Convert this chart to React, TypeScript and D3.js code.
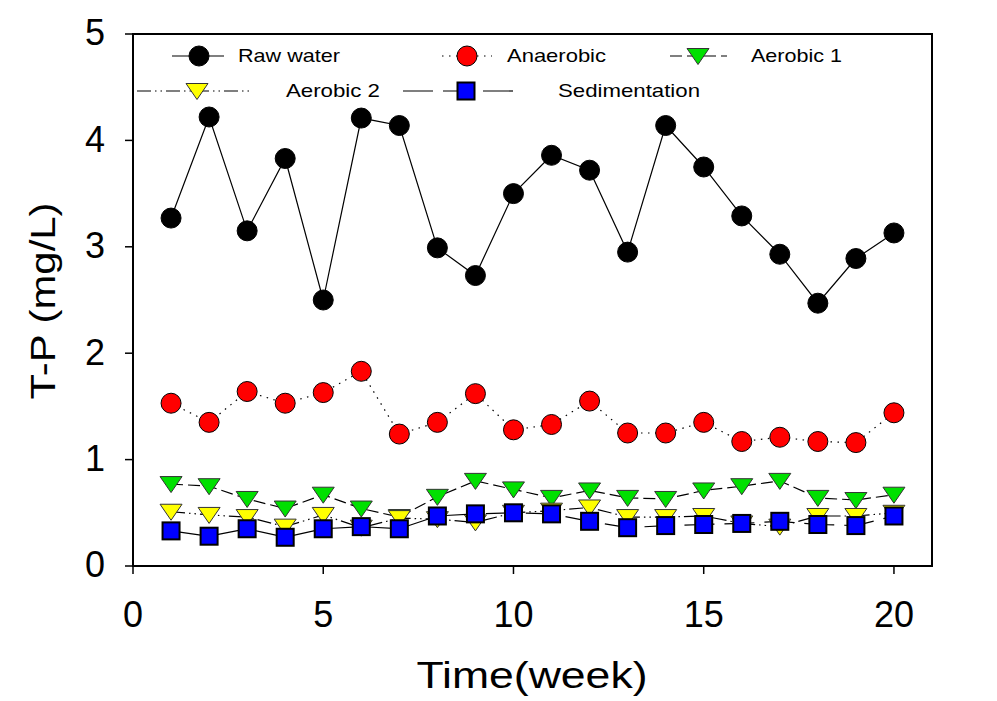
import React from "react";
import * as d3 from "d3";

const weeks = [1,2,3,4,5,6,7,8,9,10,11,12,13,14,15,16,17,18,19,20];
const rawWater = [3.27,4.22,3.15,3.83,2.50,4.21,4.14,2.99,2.73,3.50,3.86,3.72,2.95,4.14,3.75,3.29,2.93,2.47,2.89,3.13];
const anaerobic = [1.53,1.35,1.64,1.53,1.63,1.83,1.24,1.35,1.62,1.28,1.33,1.55,1.25,1.25,1.35,1.17,1.21,1.17,1.16,1.44];
const aerobic1 = [0.77,0.75,0.63,0.54,0.67,0.54,0.46,0.65,0.80,0.72,0.64,0.71,0.64,0.63,0.71,0.75,0.80,0.64,0.62,0.67];
const aerobic2 = [0.51,0.48,0.46,0.37,0.48,0.36,0.45,0.44,0.41,0.50,0.52,0.55,0.46,0.46,0.47,0.40,0.37,0.47,0.47,0.50];
const sedimentation = [0.33,0.28,0.35,0.27,0.35,0.37,0.35,0.47,0.49,0.50,0.49,0.42,0.36,0.38,0.39,0.40,0.42,0.39,0.38,0.47];
const xTicks = [0,5,10,15,20];
const yTicks = [0,1,2,3,4,5];

type Marker = "circle" | "tri" | "square";
interface Series { name: string; values: number[]; fill: string; stroke: string; marker: Marker; dash: string; }

const series: Series[] = [
  { name: "Raw water", values: rawWater, fill: "#000000", stroke: "#000", marker: "circle", dash: "" },
  { name: "Anaerobic", values: anaerobic, fill: "#ff0000", stroke: "#000", marker: "circle", dash: "1.5 5.5" },
  { name: "Aerobic 1", values: aerobic1, fill: "#00e000", stroke: "#333", marker: "tri", dash: "12 5" },
  { name: "Aerobic 2", values: aerobic2, fill: "#ffff00", stroke: "#333", marker: "tri", dash: "14 4 1.5 4 1.5 4" },
  { name: "Sedimentation", values: sedimentation, fill: "#0000ff", stroke: "#000", marker: "square", dash: "30 10" },
];

const FONT = "'Liberation Sans', Arial, sans-serif";

function MarkerShape({ m, x, y, fill, stroke }: { m: Marker; x: number; y: number; fill: string; stroke: string }) {
  if (m === "circle") return <circle cx={x} cy={y} r={10} fill={fill} stroke={stroke} strokeWidth={1} />;
  if (m === "tri") {
    const w = 11, h = 15;
    const p = `${x - w},${y - h / 2} ${x + w},${y - h / 2} ${x},${y + h / 2 + 1}`;
    return <polygon points={p} fill={fill} stroke={stroke} strokeWidth={1} />;
  }
  const s = 17;
  return <rect x={x - s / 2} y={y - s / 2} width={s} height={s} fill={fill} stroke={stroke} strokeWidth={2} />;
}

export default function App() {
  const left = 133, right = 932, top = 34, bottom = 566;
  const x = d3.scaleLinear().domain([0, 21]).range([left, right]);
  const y = d3.scaleLinear().domain([0, 5]).range([bottom, top]);
  const line = d3.line<number>().x((_, i) => x(weeks[i])).y((v) => y(v));

  const legend = [
    { s: series[0], x1: 172, x2: 224, mx: 199, ty: 56, tx: 238, tw: 102 },
    { s: series[1], x1: 442, x2: 492, mx: 467, ty: 56, tx: 507, tw: 99 },
    { s: series[2], x1: 670, x2: 727, mx: 698, ty: 56, tx: 751, tw: 91 },
    { s: series[3], x1: 137, x2: 252, mx: 197, ty: 91, tx: 286, tw: 94 },
    { s: series[4], x1: 403, x2: 517, mx: 466, ty: 91, tx: 558, tw: 142 },
  ];

  return (
    <svg width={997} height={701} style={{ position: "absolute", left: 0, top: 0, background: "#fff" }} fontFamily={FONT}>
      <rect x={0} y={0} width={997} height={701} fill="#fff" />
      {series.map((s) => (
        <g key={s.name}>
          <path d={line(s.values) || ""} fill="none" stroke="#000" strokeWidth={1.2} strokeDasharray={s.dash} />
          {s.values.map((v, i) => (
            <MarkerShape key={i} m={s.marker} x={x(weeks[i])} y={y(v)} fill={s.fill} stroke={s.stroke} />
          ))}
        </g>
      ))}
      {legend.map((l) => (
        <g key={l.s.name}>
          <line x1={l.x1} x2={l.x2} y1={l.ty} y2={l.ty} stroke="#000" strokeWidth={1.2} strokeDasharray={l.s.dash} />
          <MarkerShape m={l.s.marker} x={l.mx} y={l.ty} fill={l.s.fill} stroke={l.s.stroke} />
          <text x={l.tx} y={l.ty} dy="0.35em" fontSize={18.5} fill="#000" textLength={l.tw} lengthAdjust="spacingAndGlyphs">{l.s.name}</text>
        </g>
      ))}
      <rect x={left} y={top} width={right - left} height={bottom - top} fill="none" stroke="#000" strokeWidth={2} />
      {xTicks.map((t) => (
        <g key={"x" + t}>
          <line x1={x(t)} x2={x(t)} y1={bottom} y2={bottom + 8} stroke="#000" strokeWidth={1.5} />
          <text x={x(t)} y={627} textAnchor="middle" fontSize={36} fill="#000">{t}</text>
        </g>
      ))}
      {yTicks.map((t) => (
        <g key={"y" + t}>
          <line x1={left - 8} x2={left} y1={y(t)} y2={y(t)} stroke="#000" strokeWidth={1.5} />
          <text x={105} y={y(t) - 1.5} dy="0.36em" textAnchor="end" fontSize={36} fill="#000">{t}</text>
        </g>
      ))}
      <text x={532} y={688} textAnchor="middle" fontSize={36} fill="#000" textLength={231} lengthAdjust="spacingAndGlyphs">Time(week)</text>
      <text transform="translate(55,301) rotate(-90)" textAnchor="middle" fontSize={35} fill="#000" textLength={197} lengthAdjust="spacingAndGlyphs">T-P (mg/L)</text>
    </svg>
  );
}
